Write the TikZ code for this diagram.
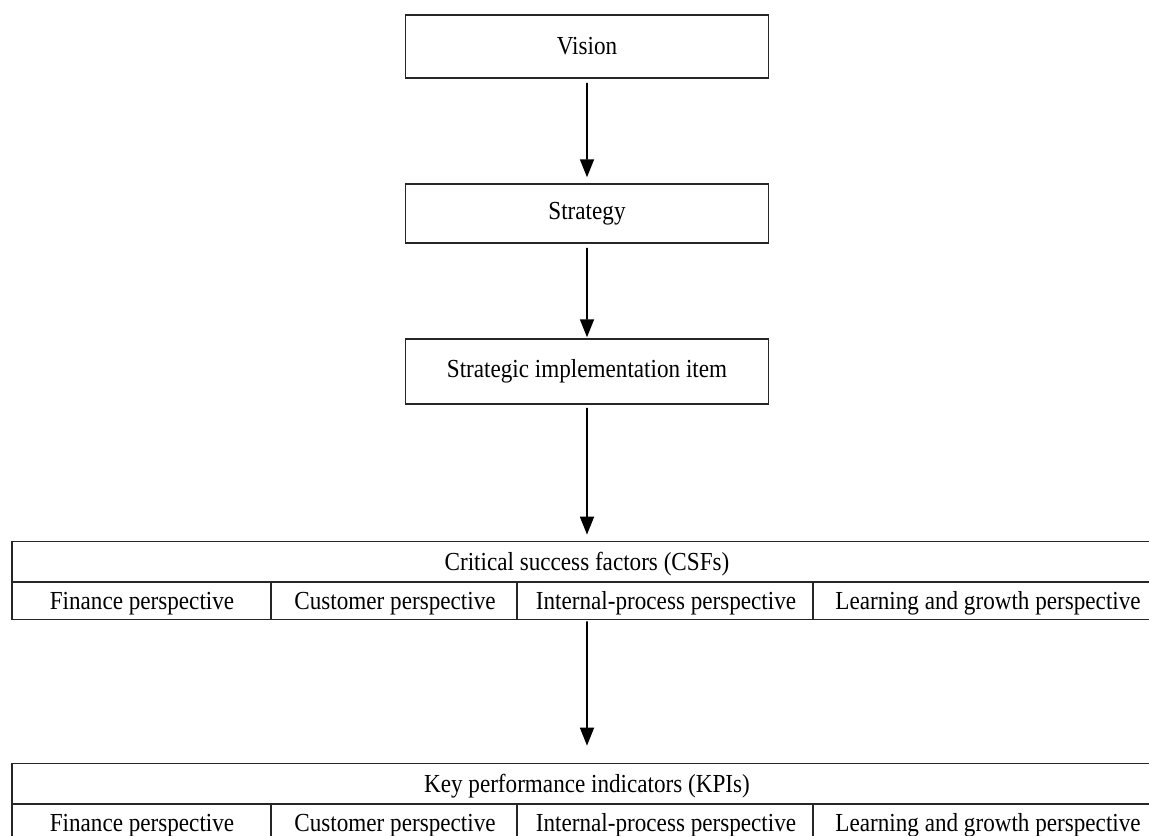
\documentclass[tikz,border=0pt]{standalone}
\usepackage{fontspec}
\setmainfont{Liberation Serif}[FakeStretch=0.89]
\usetikzlibrary{shapes,arrows.meta}
\newcommand\kopstrut{\rule[-11bp]{0pt}{39bp}}
\newcommand\celstrut{\rule[-9.5bp]{0pt}{36bp}}
\newcommand\perspektiv{%
    \makebox[260bp]{\celstrut Finance perspective}%
    \makebox[246bp]{Customer perspective}%
    \makebox[296bp]{Internal-process perspective}%
    \makebox[348bp]{Learning and growth perspective}}

\begin{document}
\begin{tikzpicture}[x=1bp, y=1bp,
    grow=down,
    level 1/.style={level distance=167bp},
    level 2/.style={level distance=158bp},
    level 3/.style={level distance=209bp},
    level 4/.style={level distance=222bp},
    edge from parent/.style={draw=black, line width=1.8bp,
        -{Triangle[length=18bp,width=14bp]}},
    edge from parent path={(\tikzparentnode.south) -- (\tikzchildnode.north)},
    every node/.style={font=\fontsize{26bp}{31bp}\selectfont},
    punkt/.style={rectangle, draw=black!85, line width=1.5bp,
        minimum width=363bp, inner sep=0pt},
    tabel/.style={rectangle split, rectangle split parts=2,
        draw=black!85, line width=1.6bp, inner sep=0pt}
    ]

\useasboundingbox (0,0) rectangle (1149,-836);
\clip (0,0) rectangle (1149,-836);

\node[punkt, minimum height=63bp] (vision) at (587,-46.5) {Vision}
    child {
        node[punkt, minimum height=59bp] (strategy) {Strategy}
        child {
            node[punkt, minimum height=65bp] (item) {Strategic implementation item}
            %CSF table
            child {
                node[tabel] (csf) {
                    \makebox[1150bp]{\kopstrut Critical success factors (CSFs)}
                    \nodepart{second}
                    \perspektiv
                }
                %KPI table
                child {
                    node[tabel] (kpi) {
                        \makebox[1150bp]{\kopstrut Key performance indicators (KPIs)}
                        \nodepart{second}
                        \perspektiv
                    }
                    edge from parent[shorten <=1bp, shorten >=17bp]
                }
                edge from parent[shorten <=3bp, shorten >=6bp]
            }
            edge from parent[shorten <=4bp, shorten >=1bp]
        }
        edge from parent[shorten <=4bp, shorten >=6bp]
    };

%cell borders
\foreach \dx in {260bp,506bp,802bp} {
    \draw[black!85, line width=1.5bp]
        ([xshift=\dx]csf.text split west) -- ([xshift=\dx]csf.south west);
    \draw[black!85, line width=1.5bp]
        ([xshift=\dx]kpi.text split west) -- ([xshift=\dx]kpi.south west);
}
\end{tikzpicture}
\end{document}
